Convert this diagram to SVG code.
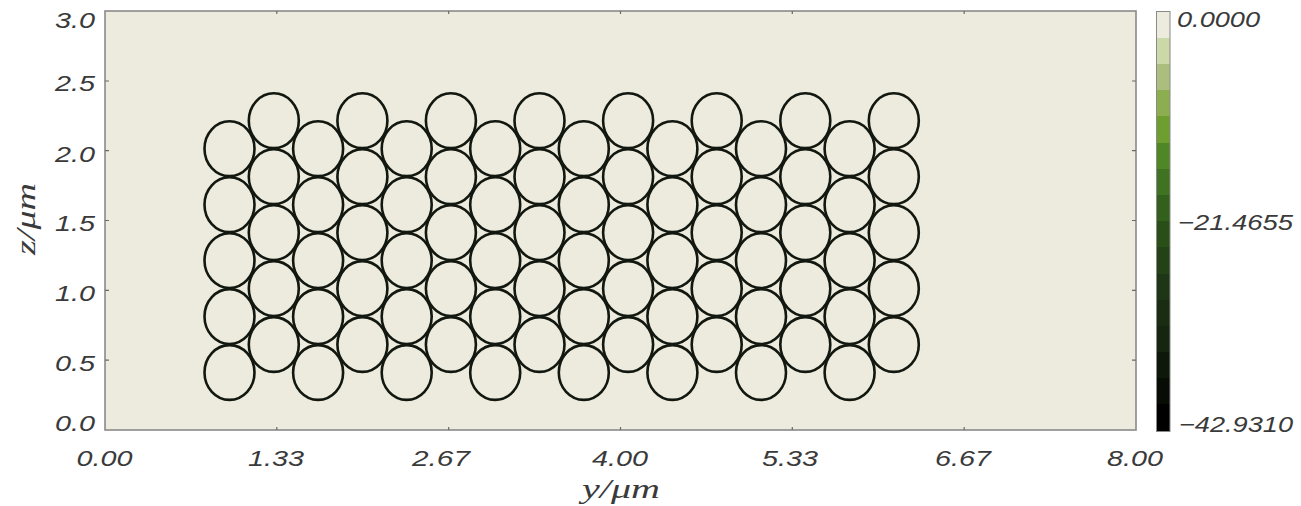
<svg xmlns="http://www.w3.org/2000/svg" width="1301" height="506" viewBox="0 0 1301 506">
<style>
.num{font-family:"Liberation Sans",Arial,sans-serif;font-style:italic;font-size:22px;fill:#3a3a3a}
.ttl{font-family:"Liberation Serif","Times New Roman",serif;font-style:italic;font-size:27px;fill:#3a3a3a}
.c{fill:none;stroke:#121710;stroke-width:2.6}
.frame{fill:#ECEBDD;stroke:#8a8a8a;stroke-width:1.6}
.tick{stroke:#6a6a6a;stroke-width:1.2}
.seg{shape-rendering:crispEdges}
</style>
<defs>
<ellipse id="p" cx="0" cy="0" rx="25" ry="27.4" class="c"/>
</defs>
<rect width="1301" height="506" fill="#ffffff"/>
<g id="plot-area">
<rect class="frame" x="105" y="11" width="1031" height="419"/>
<g id="ticks">
<path class="tick" d="M105 81h4M105 150.7h4M105 220.5h4M105 290.3h4M105 360.2h4M1136 81h-4M1136 150.7h-4M1136 220.5h-4M1136 290.3h-4M1136 360.2h-4M276.8 430v-3M448.7 430v-3M620.5 430v-3M792.3 430v-3M964.2 430v-3M276.8 11v3M448.7 11v3M620.5 11v3M792.3 11v3M964.2 11v3"/>
</g>
</g>
<g id="particles">
<g id="col0"><use href="#p" x="229.5" y="148.7"/><use href="#p" x="229.5" y="204.65"/><use href="#p" x="229.5" y="260.6"/><use href="#p" x="229.5" y="316.55"/><use href="#p" x="229.5" y="372.5"/></g>
<g id="col1"><use href="#p" x="273.8" y="120.7"/><use href="#p" x="273.8" y="176.65"/><use href="#p" x="273.8" y="232.6"/><use href="#p" x="273.8" y="288.55"/><use href="#p" x="273.8" y="344.5"/></g>
<g id="col2"><use href="#p" x="318.1" y="148.7"/><use href="#p" x="318.1" y="204.65"/><use href="#p" x="318.1" y="260.6"/><use href="#p" x="318.1" y="316.55"/><use href="#p" x="318.1" y="372.5"/></g>
<g id="col3"><use href="#p" x="362.4" y="120.7"/><use href="#p" x="362.4" y="176.65"/><use href="#p" x="362.4" y="232.6"/><use href="#p" x="362.4" y="288.55"/><use href="#p" x="362.4" y="344.5"/></g>
<g id="col4"><use href="#p" x="406.7" y="148.7"/><use href="#p" x="406.7" y="204.65"/><use href="#p" x="406.7" y="260.6"/><use href="#p" x="406.7" y="316.55"/><use href="#p" x="406.7" y="372.5"/></g>
<g id="col5"><use href="#p" x="450.9" y="120.7"/><use href="#p" x="450.9" y="176.65"/><use href="#p" x="450.9" y="232.6"/><use href="#p" x="450.9" y="288.55"/><use href="#p" x="450.9" y="344.5"/></g>
<g id="col6"><use href="#p" x="495.2" y="148.7"/><use href="#p" x="495.2" y="204.65"/><use href="#p" x="495.2" y="260.6"/><use href="#p" x="495.2" y="316.55"/><use href="#p" x="495.2" y="372.5"/></g>
<g id="col7"><use href="#p" x="539.5" y="120.7"/><use href="#p" x="539.5" y="176.65"/><use href="#p" x="539.5" y="232.6"/><use href="#p" x="539.5" y="288.55"/><use href="#p" x="539.5" y="344.5"/></g>
<g id="col8"><use href="#p" x="583.8" y="148.7"/><use href="#p" x="583.8" y="204.65"/><use href="#p" x="583.8" y="260.6"/><use href="#p" x="583.8" y="316.55"/><use href="#p" x="583.8" y="372.5"/></g>
<g id="col9"><use href="#p" x="628.1" y="120.7"/><use href="#p" x="628.1" y="176.65"/><use href="#p" x="628.1" y="232.6"/><use href="#p" x="628.1" y="288.55"/><use href="#p" x="628.1" y="344.5"/></g>
<g id="col10"><use href="#p" x="672.4" y="148.7"/><use href="#p" x="672.4" y="204.65"/><use href="#p" x="672.4" y="260.6"/><use href="#p" x="672.4" y="316.55"/><use href="#p" x="672.4" y="372.5"/></g>
<g id="col11"><use href="#p" x="716.7" y="120.7"/><use href="#p" x="716.7" y="176.65"/><use href="#p" x="716.7" y="232.6"/><use href="#p" x="716.7" y="288.55"/><use href="#p" x="716.7" y="344.5"/></g>
<g id="col12"><use href="#p" x="761.0" y="148.7"/><use href="#p" x="761.0" y="204.65"/><use href="#p" x="761.0" y="260.6"/><use href="#p" x="761.0" y="316.55"/><use href="#p" x="761.0" y="372.5"/></g>
<g id="col13"><use href="#p" x="805.3" y="120.7"/><use href="#p" x="805.3" y="176.65"/><use href="#p" x="805.3" y="232.6"/><use href="#p" x="805.3" y="288.55"/><use href="#p" x="805.3" y="344.5"/></g>
<g id="col14"><use href="#p" x="849.6" y="148.7"/><use href="#p" x="849.6" y="204.65"/><use href="#p" x="849.6" y="260.6"/><use href="#p" x="849.6" y="316.55"/><use href="#p" x="849.6" y="372.5"/></g>
<g id="col15"><use href="#p" x="893.8" y="120.7"/><use href="#p" x="893.8" y="176.65"/><use href="#p" x="893.8" y="232.6"/><use href="#p" x="893.8" y="288.55"/><use href="#p" x="893.8" y="344.5"/></g>
</g>
<g id="y-axis-labels">
<text class="num" x="55" y="28.3" textLength="40" lengthAdjust="spacingAndGlyphs">3.0</text>
<text class="num" x="55" y="91" textLength="40" lengthAdjust="spacingAndGlyphs">2.5</text>
<text class="num" x="55" y="161.5" textLength="40" lengthAdjust="spacingAndGlyphs">2.0</text>
<text class="num" x="55" y="231.3" textLength="40" lengthAdjust="spacingAndGlyphs">1.5</text>
<text class="num" x="55" y="301" textLength="40" lengthAdjust="spacingAndGlyphs">1.0</text>
<text class="num" x="55" y="370.6" textLength="40" lengthAdjust="spacingAndGlyphs">0.5</text>
<text class="num" x="55" y="431" textLength="40" lengthAdjust="spacingAndGlyphs">0.0</text>
</g>
<g id="x-axis-labels">
<text class="num" x="76.5" y="466" textLength="56" lengthAdjust="spacingAndGlyphs">0.00</text>
<text class="num" x="248" y="466" textLength="56" lengthAdjust="spacingAndGlyphs">1.33</text>
<text class="num" x="412" y="466" textLength="58" lengthAdjust="spacingAndGlyphs">2.67</text>
<text class="num" x="592" y="466" textLength="56" lengthAdjust="spacingAndGlyphs">4.00</text>
<text class="num" x="762" y="466" textLength="56" lengthAdjust="spacingAndGlyphs">5.33</text>
<text class="num" x="935" y="466" textLength="56" lengthAdjust="spacingAndGlyphs">6.67</text>
<text class="num" x="1107" y="466" textLength="56" lengthAdjust="spacingAndGlyphs">8.00</text>
</g>
<g id="axis-titles">
<text class="ttl" x="582" y="498" textLength="78" lengthAdjust="spacingAndGlyphs">y/μm</text>
<text class="ttl" transform="translate(35,219) rotate(-90)" x="-36" y="0" textLength="72" lengthAdjust="spacingAndGlyphs">z/μm</text>
</g>
<g id="colorbar">
<rect class="seg" x="1157" y="12" width="13" height="27" fill="#ECEBDD"/>
<rect class="seg" x="1157" y="38" width="13" height="27" fill="#CBD8A8"/>
<rect class="seg" x="1157" y="64" width="13" height="27" fill="#ABBE7E"/>
<rect class="seg" x="1157" y="90" width="13" height="27" fill="#8CAD50"/>
<rect class="seg" x="1157" y="116" width="13" height="28" fill="#6E9E2F"/>
<rect class="seg" x="1157" y="143" width="13" height="27" fill="#4F8626"/>
<rect class="seg" x="1157" y="169" width="13" height="27" fill="#3F7221"/>
<rect class="seg" x="1157" y="195" width="13" height="27" fill="#33601C"/>
<rect class="seg" x="1157" y="221" width="13" height="27" fill="#2A4E18"/>
<rect class="seg" x="1157" y="247" width="13" height="28" fill="#244217"/>
<rect class="seg" x="1157" y="274" width="13" height="27" fill="#1F3616"/>
<rect class="seg" x="1157" y="300" width="13" height="27" fill="#1A2D13"/>
<rect class="seg" x="1157" y="326" width="13" height="27" fill="#152510"/>
<rect class="seg" x="1157" y="352" width="13" height="27" fill="#0E180A"/>
<rect class="seg" x="1157" y="378" width="13" height="27" fill="#070C05"/>
<rect class="seg" x="1157" y="404" width="13" height="27" fill="#000000"/>
<rect x="1156.5" y="11.5" width="13.5" height="420" fill="none" stroke="#8a8a8a" stroke-width="1"/>
<text class="num" x="1177" y="26.7" textLength="83" lengthAdjust="spacingAndGlyphs">0.0000</text>
<text class="num" x="1178" y="230" textLength="115" lengthAdjust="spacingAndGlyphs">−21.4655</text>
<text class="num" x="1179" y="431.5" textLength="114" lengthAdjust="spacingAndGlyphs">−42.9310</text>
</g>
</svg>
